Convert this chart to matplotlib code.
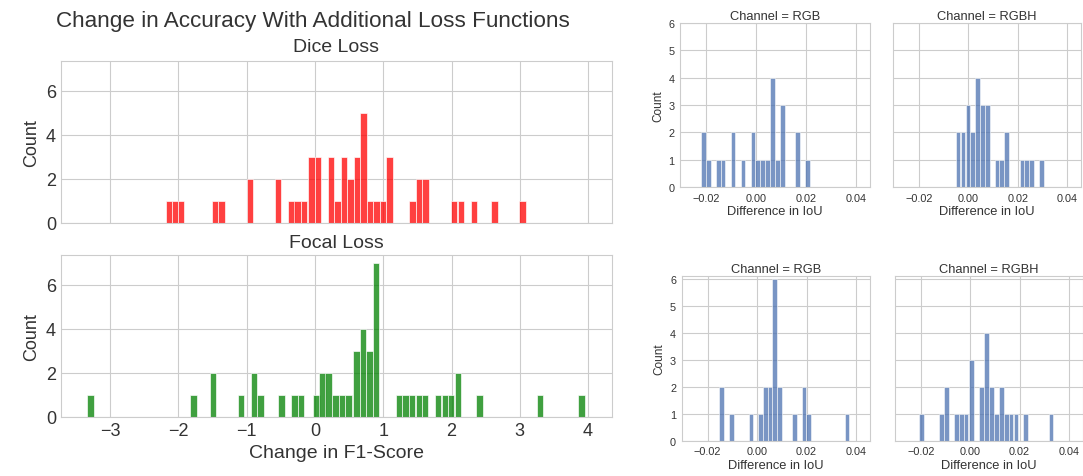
import numpy as np
import matplotlib
matplotlib.use("Agg")
import matplotlib.pyplot as plt
import seaborn as sns

# Left figure: change in F1-score per loss function (histogram bins)
dice_centers = [-2.14, -2.05, -1.96, -1.46, -1.37, -0.955, -0.54, -0.345, -0.255, -0.165,
                -0.05, 0.04, 0.235, 0.33, 0.425, 0.52, 0.615, 0.71, 0.805, 0.90, 0.995,
                1.09, 1.43, 1.525, 1.62, 2.04, 2.135, 2.33, 2.63, 3.04]
dice_counts = [1, 1, 1, 1, 1, 2, 2, 1, 1, 1,
               3, 3, 3, 1, 3, 2, 3, 5, 1, 1, 1,
               3, 1, 2, 2, 1, 1, 1, 1, 1]

focal_centers = [-3.29, -1.78, -1.495, -1.085, -0.895, -0.80, -0.49, -0.30, -0.205,
                 0.02, 0.11, 0.20, 0.30, 0.395, 0.49, 0.61, 0.705, 0.80, 0.895,
                 1.23, 1.325, 1.42, 1.52, 1.615, 1.805, 1.90, 1.995, 2.095, 2.41,
                 3.295, 3.905]
focal_counts = [1, 1, 2, 1, 2, 1, 1, 1, 1,
                1, 2, 2, 1, 1, 1, 3, 4, 3, 7,
                1, 1, 1, 1, 1, 1, 1, 1, 2, 1,
                1, 1]

# Right figure: difference in IoU per channel (two rows of facets)
rgb_top_centers = [-0.0211, -0.0191, -0.0151, -0.0133, -0.0092, -0.0052, -0.0013, 0.0005,
                   0.0025, 0.0045, 0.0066, 0.0086, 0.0107, 0.0166, 0.0207]
rgb_top_counts = [2, 1, 1, 1, 2, 1, 2, 1, 1, 1, 4, 1, 3, 2, 1]

rgbh_top_centers = [-0.0041, -0.0022, -0.0002, 0.0018, 0.0038, 0.0058, 0.0077, 0.0116,
                    0.0135, 0.0155, 0.0218, 0.0237, 0.0256, 0.0296]
rgbh_top_counts = [2, 2, 3, 2, 4, 3, 3, 1, 1, 2, 1, 1, 1, 1]

rgb_bot_centers = [-0.0144, -0.0103, -0.0025, 0.0014, 0.0033, 0.0052, 0.0071, 0.0091,
                   0.0151, 0.0189, 0.0208, 0.0364]
rgb_bot_counts = [2, 1, 1, 1, 2, 2, 6, 2, 1, 2, 1, 1]

rgbh_bot_centers = [-0.0197, -0.0117, -0.0097, -0.0055, -0.0036, -0.0017, 0.0005, 0.0046,
                    0.0066, 0.0086, 0.0106, 0.0126, 0.0146, 0.0166, 0.0186, 0.0225, 0.0328]
rgbh_bot_counts = [1, 1, 2, 1, 1, 1, 3, 2, 4, 2, 1, 2, 1, 1, 1, 1, 1]

sns.set_style("whitegrid")
plt.rcParams['font.family'] = ['Liberation Sans', 'DejaVu Sans']
plt.rcParams['axes.edgecolor'] = '#cccccc'
plt.rcParams['grid.color'] = '#cccccc'
text_col = '#333333'

fig = plt.figure(figsize=(10.83, 4.77), dpi=100)

# ---- left figure ----
ax_dice = fig.add_axes([0.0563, 0.5304, 0.5088, 0.3396])
ax_focal = fig.add_axes([0.0563, 0.1237, 0.5088, 0.3396], sharex=ax_dice, sharey=ax_dice)

ax_dice.bar(dice_centers, dice_counts, width=0.094, color='red', alpha=0.75,
            edgecolor='white', linewidth=0.6)
ax_focal.bar(focal_centers, focal_counts, width=0.094, color='green', alpha=0.75,
             edgecolor='white', linewidth=0.6)

for ax, name, tpad in [(ax_dice, 'Dice Loss', 7), (ax_focal, 'Focal Loss', 6)]:
    ax.set_title(name, fontsize=14, color=text_col, pad=tpad)
    ax.set_ylabel('Count', fontsize=13, color=text_col)
    ax.set_yticks([0, 2, 4, 6])
    ax.tick_params(labelsize=13, labelcolor=text_col, length=0)
    ax.set_axisbelow(True)

ax_dice.set_xlim(-3.72, 4.35)
ax_dice.set_ylim(0, 7.35)
ax_dice.set_xticks([-3, -2, -1, 0, 1, 2, 3, 4])
ax_dice.tick_params(labelbottom=False)
ax_focal.set_xlabel('Change in F1-Score', fontsize=14, color=text_col)
fig.text(0.289, 0.955, 'Change in Accuracy With Additional Loss Functions',
         ha='center', va='center', fontsize=16.2, color=text_col)

# ---- right figure ----
facets = [
    ([0.6279, 0.6059, 0.1754, 0.3438], rgb_top_centers, rgb_top_counts, 'RGB', True, 6.0),
    ([0.8246, 0.6059, 0.1736, 0.3438], rgbh_top_centers, rgbh_top_counts, 'RGBH', False, 6.0),
    ([0.6294, 0.0740, 0.1740, 0.3450], rgb_bot_centers, rgb_bot_counts, 'RGB', True, 6.1),
    ([0.8264, 0.0740, 0.1736, 0.3450], rgbh_bot_centers, rgbh_bot_counts, 'RGBH', False, 6.1),
]
for rect, centers, counts, channel, first, ytop in facets:
    ax = fig.add_axes(rect)
    ax.bar(centers, counts, width=0.00185, color='#4c72b0', alpha=0.75,
           edgecolor='white', linewidth=0.5)
    ax.set_xlim(-0.0305, 0.0457)
    ax.set_ylim(0, ytop)
    ax.set_xticks([-0.02, 0.0, 0.02, 0.04])
    ax.set_xticklabels(['\u22120.02', '0.00', '0.02', '0.04'])
    ax.set_yticks(range(7))
    ax.set_title('Channel = ' + channel, fontsize=9.3, color=text_col, pad=3)
    ax.set_xlabel('Difference in IoU', fontsize=9.3, color=text_col, labelpad=2)
    ax.tick_params(labelsize=7.8, labelcolor=text_col, length=0, pad=4)
    if first:
        ax.set_ylabel('Count', fontsize=8.5, color=text_col, labelpad=3)
    else:
        ax.tick_params(labelleft=False)
    ax.set_axisbelow(True)

fig.savefig('out.png', dpi=100)
